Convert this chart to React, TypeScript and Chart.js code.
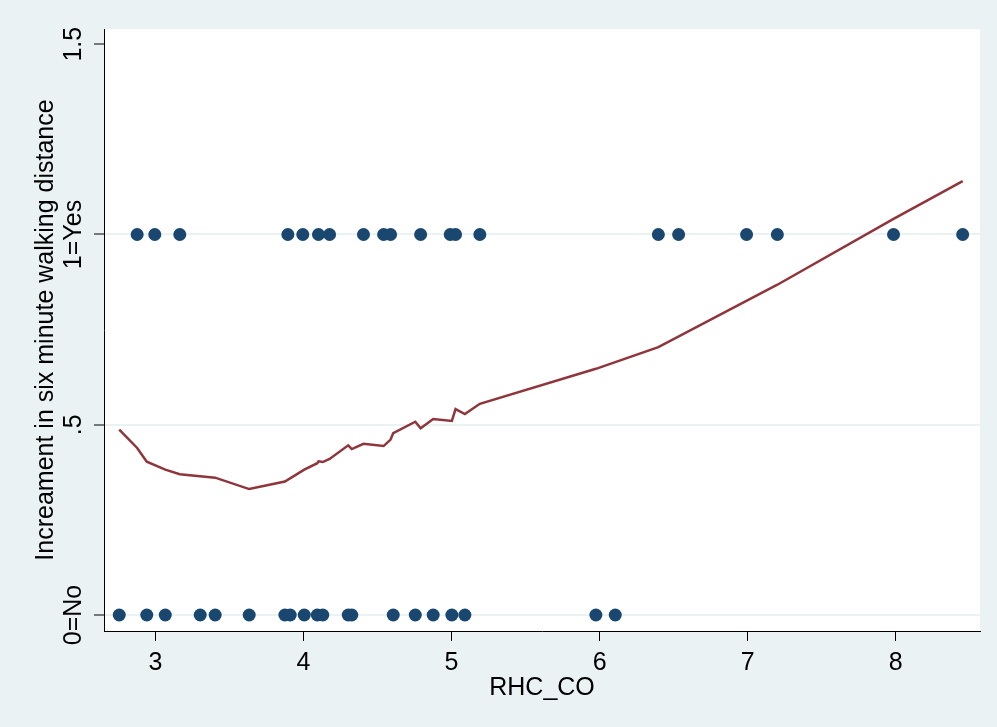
import React, { useEffect, useRef } from "react";
import { Chart, registerables } from "chart.js";

Chart.register(...registerables);

// ---- data ----
const yesX = [2.876, 2.995, 3.164, 3.894, 3.995, 4.101, 4.176, 4.405, 4.541, 4.588, 4.791, 4.991, 5.027, 5.191, 6.397, 6.534, 6.993, 7.201, 7.986, 8.453];
const noX = [2.755, 2.941, 3.066, 3.302, 3.403, 3.633, 3.874, 3.91, 4.005, 4.093, 4.13, 4.302, 4.326, 4.606, 4.755, 4.876, 5.002, 5.09, 5.975, 6.106];
const lowessX = [2.755, 2.876, 2.941, 3.066, 3.164, 3.403, 3.633, 3.874, 4.005, 4.093, 4.101, 4.13, 4.176, 4.302, 4.326, 4.405, 4.541, 4.588, 4.606, 4.755, 4.791, 4.876, 5.002, 5.027, 5.09, 5.191, 5.975, 6.397, 7.201, 7.986, 8.453];
const lowessY = [0.487, 0.439, 0.403, 0.382, 0.370, 0.361, 0.331, 0.351, 0.382, 0.399, 0.404, 0.402, 0.410, 0.446, 0.436, 0.450, 0.444, 0.461, 0.478, 0.508, 0.491, 0.515, 0.510, 0.541, 0.528, 0.555, 0.647, 0.704, 0.868, 1.041, 1.140];
const xTicks = [3, 4, 5, 6, 7, 8];
const yTicks = [0, 0.5, 1, 1.5];
const yTickLabels = ["0=No", ".5", "1=Yes", "1.5"];
const xTitle = "RHC_CO";
const yTitle = "Increament in six minute walking distance";

const FONT = "'Liberation Sans', Arial, Helvetica, sans-serif";
const BG = "#EAF2F3";
const NAVY = "#1A476F";
const MAROON = "#90353B";

export default function App() {
  const ref = useRef<HTMLCanvasElement | null>(null);

  useEffect(() => {
    document.body.style.margin = "0";
    const canvas = ref.current;
    if (!canvas) return;

    const bgPlugin = {
      id: "bgPlugin",
      beforeDraw(chart: any) {
        const { ctx, chartArea } = chart;
        ctx.save();
        ctx.fillStyle = BG;
        ctx.fillRect(0, 0, chart.width, chart.height);
        ctx.fillStyle = "#FFFFFF";
        ctx.fillRect(chartArea.left, chartArea.top, chartArea.right - chartArea.left, chartArea.bottom - chartArea.top);
        ctx.restore();
      },
    };

    const yLabelPlugin = {
      id: "yLabelPlugin",
      afterDraw(chart: any) {
        const { ctx } = chart;
        const ys = chart.scales.y;
        ctx.save();
        ctx.fillStyle = "#000";
        ctx.font = `25px ${FONT}`;
        ctx.textAlign = "center";
        ctx.textBaseline = "middle";
        yTicks.forEach((v, i) => {
          const py = ys.getPixelForValue(v);
          ctx.save();
          ctx.translate(74, py);
          ctx.rotate(-Math.PI / 2);
          ctx.fillText(yTickLabels[i], 0, 0);
          ctx.restore();
        });
        ctx.restore();
      },
    };

    const chart = new Chart(canvas, {
      type: "scatter",
      data: {
        datasets: [
          {
            label: "lowess",
            data: lowessX.map((x, i) => ({ x, y: lowessY[i] })),
            showLine: true,
            borderColor: MAROON,
            borderWidth: 2.5,
            pointRadius: 0,
            tension: 0,
            order: 0,
          } as any,
          {
            label: "yes",
            data: yesX.map((x) => ({ x, y: 1 })),
            backgroundColor: NAVY,
            borderWidth: 0,
            pointRadius: 6.5,
            order: 1,
          },
          {
            label: "no",
            data: noX.map((x) => ({ x, y: 0 })),
            backgroundColor: NAVY,
            borderWidth: 0,
            pointRadius: 6.5,
            order: 1,
          },
        ],
      },
      options: {
        responsive: false,
        devicePixelRatio: 1,
        animation: false,
        layout: { padding: { left: 0, right: 17, top: 29, bottom: 0 } },
        plugins: { legend: { display: false }, tooltip: { enabled: false } },
        scales: {
          x: {
            type: "linear",
            min: 2.652,
            max: 8.57,
            afterBuildTicks: (s: any) => {
              s.ticks = xTicks.map((v) => ({ value: v }));
            },
            afterFit: (s: any) => {
              s.height = 96;
            },
            grid: {
              drawOnChartArea: false,
              drawTicks: true,
              tickLength: 10,
              tickColor: "#000",
              tickWidth: 1,
            },
            border: { display: true, color: "#000", width: 1 },
            ticks: {
              font: { family: FONT, size: 25 },
              color: "#000",
              padding: 7,
              maxRotation: 0,
              minRotation: 0,
              autoSkip: false,
              callback: (v: any) => String(v),
            },
            title: {
              display: true,
              text: xTitle,
              color: "#000",
              font: { family: FONT, size: 25 },
              padding: { top: 0, bottom: 24 },
            },
          },
          y: {
            type: "linear",
            min: -0.042,
            max: 1.54,
            afterBuildTicks: (s: any) => {
              s.ticks = yTicks.map((v) => ({ value: v }));
            },
            afterFit: (s: any) => {
              s.width = 104;
            },
            grid: {
              color: (c: any) => (c.tick && c.tick.value === 1.5 ? "rgba(0,0,0,0)" : BG),
              lineWidth: 2,
              drawTicks: true,
              tickLength: 10,
              tickColor: "#000",
              tickWidth: 1,
            },
            border: { display: true, color: "#000", width: 1 },
            ticks: { display: false },
            title: {
              display: true,
              text: yTitle,
              color: "#000",
              font: { family: FONT, size: 25 },
              padding: { top: 31, bottom: 0 },
            },
          },
        },
      },
      plugins: [bgPlugin, yLabelPlugin],
    });

    return () => chart.destroy();
  }, []);

  return (
    <div style={{ width: 997, height: 727 }}>
      <canvas ref={ref} width={997} height={727} style={{ display: "block" }} />
    </div>
  );
}
